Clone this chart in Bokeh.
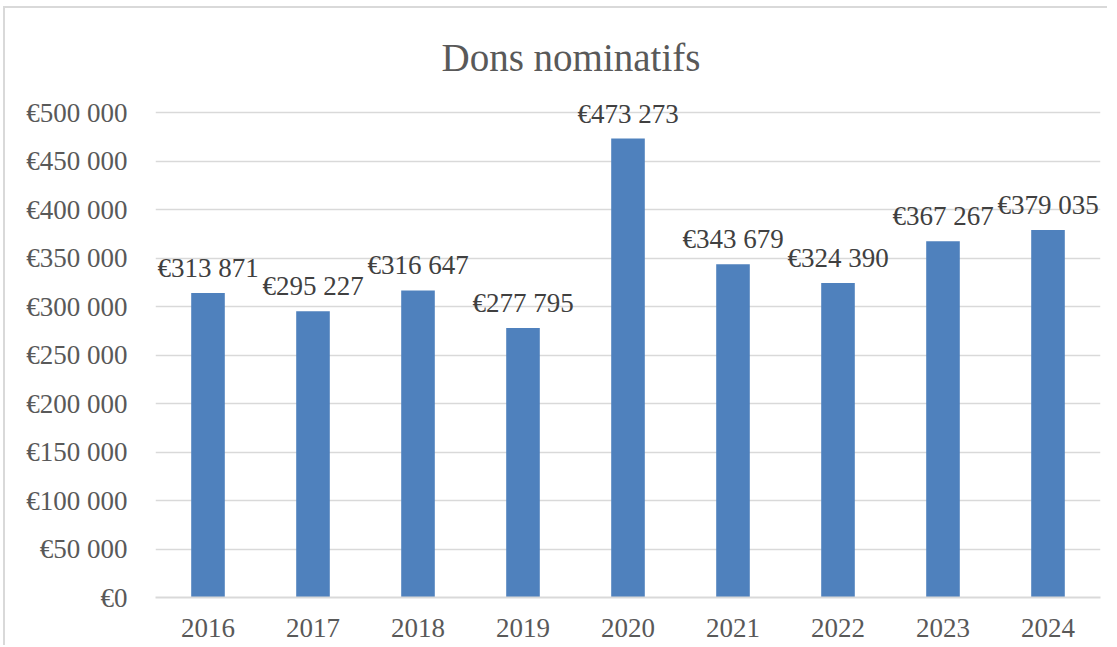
from bokeh.plotting import figure
from bokeh.models import ColumnDataSource, FactorRange, Range1d, FixedTicker, CustomJSTickFormatter, Title
from bokeh.core.properties import value
from bokeh.embed import file_html
from bokeh.resources import INLINE

# ---- data ----
years = ["2016", "2017", "2018", "2019", "2020", "2021", "2022", "2023", "2024"]
donations = [313871, 295227, 316647, 277795, 473273, 343679, 324390, 367267, 379035]
y_ticks = [0, 50000, 100000, 150000, 200000, 250000, 300000, 350000, 400000, 450000, 500000]
title_text = "Dons nominatifs"


def euro(v):
    return "\u20ac" + f"{v:,}".replace(",", " ")


labels = [euro(v) for v in donations]
src = ColumnDataSource(dict(year=years, value=donations, label=labels))

FONT = "Liberation Serif"
GRID = "#d9d9d9"
TXT = "#595959"
FS = "27px"

p = figure(
    width=1104, height=639,
    x_range=FactorRange(*years, range_padding=0),
    y_range=Range1d(0, 530000),
    output_backend="svg", toolbar_location=None,
    min_border_left=150, min_border_right=9,
    min_border_top=75, min_border_bottom=50,
)
p.styles = {"border-left": "2px solid #d9d9d9", "border-top": "2px solid #d9d9d9",
            "margin-left": "3px", "margin-top": "6px"}
p.outline_line_color = None
p.background_fill_color = "white"
p.border_fill_color = "white"

p.vbar(x="year", top="value", width=0.32, source=src, color="#4f81bd", line_color=None)

p.text(x="year", y="value", text="label", source=src,
       text_font=value(FONT), text_font_size=FS, text_color="#404040",
       text_align="center", text_baseline="middle", y_offset=-25)

t = Title(text=title_text, text_font=FONT, text_font_size="39px", text_color=TXT,
          text_font_style="normal", align="left", offset=286)
p.add_layout(t, "above")

# y axis
p.yaxis.ticker = FixedTicker(ticks=y_ticks)
p.yaxis.formatter = CustomJSTickFormatter(code="""
return '\u20ac' + tick.toString().replace(/\\B(?=(\\d{3})+(?!\\d))/g, ' ');
""")
p.yaxis.axis_line_color = None
p.yaxis.major_tick_line_color = None
p.yaxis.minor_tick_line_color = None
p.yaxis.major_tick_out = 0
p.yaxis.major_tick_in = 0
p.yaxis.major_label_standoff = 28
p.yaxis.major_label_text_font = FONT
p.yaxis.major_label_text_font_size = FS
p.yaxis.major_label_text_color = TXT

# x axis
p.xaxis.axis_line_color = GRID
p.xaxis.axis_line_width = 2
p.xaxis.major_tick_line_color = None
p.xaxis.major_tick_out = 0
p.xaxis.major_tick_in = 0
p.xaxis.major_label_standoff = 21
p.xaxis.major_label_text_font = FONT
p.xaxis.major_label_text_font_size = FS
p.xaxis.major_label_text_color = TXT

p.xgrid.grid_line_color = None
p.ygrid.ticker = FixedTicker(ticks=y_ticks)
p.ygrid.grid_line_color = GRID
p.ygrid.grid_line_width = 1.5

open("out.html", "w").write(file_html(p, INLINE))
